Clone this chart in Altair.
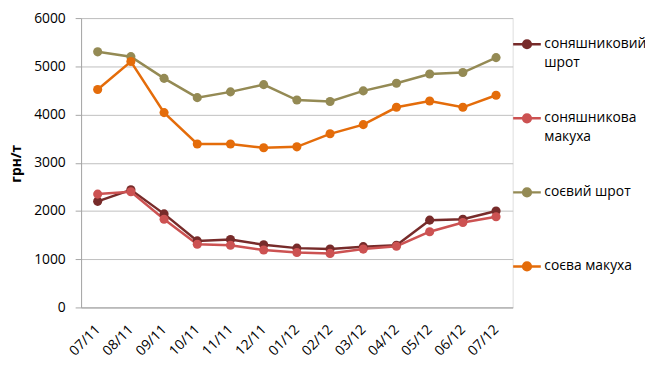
import altair as alt
import pandas as pd

months = ["07/11", "08/11", "09/11", "10/11", "11/11", "12/11", "01/12",
          "02/12", "03/12", "04/12", "05/12", "06/12", "07/12"]
series_names = ["соняшниковий шрот", "соняшникова макуха", "соєвий шрот", "соєва макуха"]
sun_meal = [2200, 2440, 1940, 1380, 1410, 1300, 1230, 1210, 1260, 1290, 1810, 1830, 2000]
sun_cake = [2350, 2400, 1830, 1310, 1290, 1190, 1140, 1120, 1210, 1270, 1570, 1760, 1880]
soy_meal = [5300, 5200, 4750, 4350, 4470, 4620, 4300, 4270, 4490, 4650, 4840, 4870, 5180]
soy_cake = [4520, 5100, 4040, 3390, 3390, 3310, 3330, 3600, 3790, 4150, 4280, 4150, 4400]
colors = ["#772b2a", "#cc5252", "#948a54", "#e46c0a"]

rows = []
for name, vals in zip(series_names, [sun_meal, sun_cake, soy_meal, soy_cake]):
    for i, (m, v) in enumerate(zip(months, vals)):
        rows.append({"month": m, "month_idx": i, "series": name, "value": v})
df = pd.DataFrame(rows)

font = "Open Sans"
fs = 14
label_expr = ("datum.label == 'соняшниковий шрот' ? ['соняшниковий', 'шрот'] : "
              "datum.label == 'соняшникова макуха' ? ['соняшникова', 'макуха'] : "
              "[datum.label, ' ']")

color = alt.Color(
    "series:N",
    scale=alt.Scale(domain=series_names, range=colors),
    legend=alt.Legend(
        title=None, orient="none", legendX=436, legendY=11,
        symbolType="M-1,0H1M-0.28,0A0.28,0.28,0,1,0,0.28,0A0.28,0.28,0,1,0,-0.28,0Z",
        symbolSize=784, symbolStrokeWidth=2.5, labelFont=font, labelFontSize=fs,
        labelColor="#000000", labelOffset=2, rowPadding=33, labelExpr=label_expr,
        labelBaseline="middle", labelLimit=200,
    ),
)

base = alt.Chart(df).encode(
    x=alt.X("month:N", sort=months, title=None,
            scale=alt.Scale(paddingInner=0, paddingOuter=0.5),
            axis=alt.Axis(labelAngle=-45, labelFont=font, labelFontSize=fs,
                          labelColor="#000000", ticks=False, domainColor="#a6a6a6",
                          labelPadding=20, labelAlign="right", labelBaseline="middle",
                          grid=False)),
    y=alt.Y("value:Q", title="грн/т",
            scale=alt.Scale(domain=[0, 6000]),
            axis=alt.Axis(values=[0, 1000, 2000, 3000, 4000, 5000, 6000], format="d",
                          labelFont=font, labelFontSize=fs, labelColor="#000000",
                          tickColor="#a6a6a6", tickSize=6, labelPadding=10,
                          domainColor="#a6a6a6", gridColor="#bfbfbf",
                          titleFont=font, titleFontSize=fs, titleFontWeight="bold",
                          titleColor="#000000", titleX=-58, titleY=147)),
    color=color,
    order=alt.Order("month_idx:Q"),
)

lines = base.mark_line(strokeWidth=2.5)
points = base.mark_point(filled=True, size=85, opacity=1)

chart = alt.layer(lines, points).properties(
    width=437, height=293,
    padding={"left": 74, "top": 8, "right": 134, "bottom": 49},
    autosize=alt.AutoSizeParams(type="none"),
).configure_view(stroke=None).configure(
    background="#ffffff",
    style={"guide-label": {"lineHeight": 19}},
)

chart.save("out.html", embed_options={"renderer": "svg", "actions": False})
